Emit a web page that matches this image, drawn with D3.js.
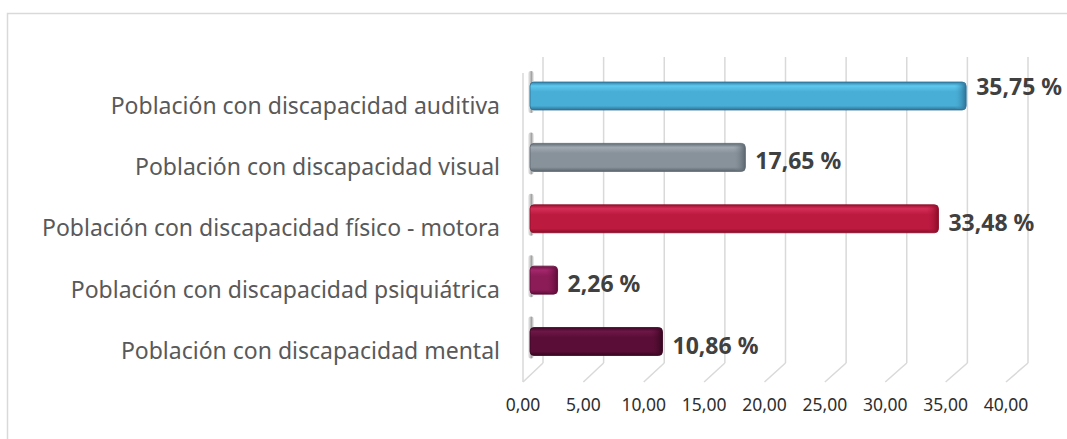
<!DOCTYPE html>
<html>
<head>
<meta charset="utf-8">
<script src="https://cdn.jsdelivr.net/npm/d3@7"></script>
<style>
  body { margin: 0; background: #fff; }
  svg { display: block; }
</style>
</head>
<body>
<svg id="chart" width="1067" height="439"></svg>
<script>
var categories = [
    "Población con discapacidad auditiva",
    "Población con discapacidad visual",
    "Población con discapacidad físico - motora",
    "Población con discapacidad psiquiátrica",
    "Población con discapacidad mental"
];
var values = [35.75, 17.65, 33.48, 2.26, 10.86];
var valueLabels = ["35,75 %", "17,65 %", "33,48 %", "2,26 %", "10,86 %"];
var tickValues = [0, 5, 10, 15, 20, 25, 30, 35, 40];
var tickLabels = ["0,00", "5,00", "10,00", "15,00", "20,00", "25,00", "30,00", "35,00", "40,00"];

// top / light / mid / bottom shades per bar
var barColors = [
    ["#2f7fa6", "#5fc8ee", "#48aed6", "#2e7094"],
    ["#5f6a73", "#a0a9b1", "#88929b", "#5b656e"],
    ["#9e0f2e", "#d42e57", "#bd1a40", "#8a0c28"],
    ["#6e1143", "#a3276c", "#8c1c58", "#5e0c38"],
    ["#3e0725", "#6e1647", "#5a0e37", "#36051f"]
];

var svg = d3.select("#chart"),
    width = +svg.attr("width"),
    height = +svg.attr("height");

var font = "'Noto Sans', 'DejaVu Sans', sans-serif";

// chart border (only top and left visible)
svg.append("path")
    .attr("d", "M7.5,439 L7.5,13.5 L1067,13.5")
    .attr("fill", "none")
    .attr("stroke", "#d9d9d9")
    .attr("stroke-width", 1.5);

var xBar = d3.scaleLinear().domain([0, 40]).range([530, 1018]);
var xBack = d3.scaleLinear().domain([0, 40]).range([543, 1028]);
var xFront = d3.scaleLinear().domain([0, 40]).range([523, 1006]);
var y = d3.scalePoint().domain(categories).range([96, 341.5]);

var backTop = 57, backBottom = 363, frontBottom = 382;
var barH = 28;

var defs = svg.append("defs");
barColors.forEach(function (c, i) {
    var g = defs.append("linearGradient")
        .attr("id", "bar" + i)
        .attr("x1", 0).attr("y1", 0).attr("x2", 0).attr("y2", 1);
    g.append("stop").attr("offset", "0%").attr("stop-color", c[0]);
    g.append("stop").attr("offset", "14%").attr("stop-color", c[1]);
    g.append("stop").attr("offset", "35%").attr("stop-color", c[2]);
    g.append("stop").attr("offset", "85%").attr("stop-color", c[2]);
    g.append("stop").attr("offset", "100%").attr("stop-color", c[3]);

    var e = defs.append("linearGradient")
        .attr("id", "cap" + i)
        .attr("x1", 0).attr("y1", 0).attr("x2", 1).attr("y2", 0);
    e.append("stop").attr("offset", "0%").attr("stop-color", c[2]).attr("stop-opacity", 0);
    e.append("stop").attr("offset", "100%").attr("stop-color", c[3]);
});

var shadow = defs.append("linearGradient")
    .attr("id", "wallShadow")
    .attr("x1", 0).attr("y1", 0).attr("x2", 1).attr("y2", 0);
shadow.append("stop").attr("offset", "0%").attr("stop-color", "#9a9a9a").attr("stop-opacity", 0.1);
shadow.append("stop").attr("offset", "60%").attr("stop-color", "#8a8a8a").attr("stop-opacity", 0.8);
shadow.append("stop").attr("offset", "100%").attr("stop-color", "#bdbdbd").attr("stop-opacity", 0.2);

// back wall gridlines
var grid = svg.append("g").attr("class", "grid");
grid.selectAll("line.back")
    .data(tickValues)
    .enter().append("line")
    .attr("class", "back")
    .attr("x1", function (d) { return xBack(d); })
    .attr("x2", function (d) { return xBack(d); })
    .attr("y1", backTop)
    .attr("y2", backBottom)
    .attr("stroke", "#d9d9d9")
    .attr("stroke-width", 1.5);

// floor lines
grid.selectAll("line.floor")
    .data(tickValues)
    .enter().append("line")
    .attr("class", "floor")
    .attr("x1", function (d) { return xFront(d); })
    .attr("x2", function (d) { return xBack(d); })
    .attr("y1", frontBottom)
    .attr("y2", backBottom)
    .attr("stroke", "#d9d9d9")
    .attr("stroke-width", 1.5);

// side wall front edge
grid.append("line")
    .attr("x1", xFront(0)).attr("x2", xFront(0))
    .attr("y1", 73).attr("y2", frontBottom)
    .attr("stroke", "#d9d9d9")
    .attr("stroke-width", 1.5);

// shadows on the side wall
grid.selectAll("rect.wall")
    .data(categories)
    .enter().append("rect")
    .attr("class", "wall")
    .attr("x", xBar(0) - 2)
    .attr("y", function (d) { return y(d) - barH / 2 - 11; })
    .attr("width", 6)
    .attr("height", barH + 14)
    .attr("rx", 3)
    .attr("fill", "url(#wallShadow)");

// bars
var bars = svg.append("g").attr("class", "bars")
    .selectAll("g")
    .data(categories)
    .enter().append("g");

bars.append("rect")
    .attr("x", xBar(0))
    .attr("y", function (d) { return y(d) - barH / 2; })
    .attr("width", function (d, i) { return xBar(values[i]) - xBar(0); })
    .attr("height", barH)
    .attr("rx", 4)
    .attr("fill", function (d, i) { return "url(#bar" + i + ")"; })
    .attr("stroke", function (d, i) { return barColors[i][3]; })
    .attr("stroke-width", 0.8);

// rounded end cap shading
bars.append("rect")
    .attr("x", function (d, i) { return xBar(values[i]) - 12; })
    .attr("y", function (d) { return y(d) - barH / 2 + 1; })
    .attr("width", 12)
    .attr("height", barH - 2)
    .attr("rx", 4)
    .attr("fill", function (d, i) { return "url(#cap" + i + ")"; });

// value labels
bars.append("text")
    .text(function (d, i) { return valueLabels[i]; })
    .attr("x", function (d, i) { return xBar(values[i]) + 10; })
    .attr("y", function (d, i) { return y(d) + (i === 0 ? -9.5 : 4); })
    .attr("dy", "0.35em")
    .attr("font-family", font)
    .attr("font-weight", "bold")
    .attr("font-size", "23px")
    .attr("fill", "#404040");

// category labels
svg.append("g").attr("class", "cats")
    .selectAll("text")
    .data(categories)
    .enter().append("text")
    .text(function (d) { return d; })
    .attr("x", 500)
    .attr("y", function (d) { return y(d) + 9.5; })
    .attr("dy", "0.35em")
    .attr("text-anchor", "end")
    .attr("font-family", font)
    .attr("font-size", "23px")
    .attr("fill", "#595959");

// value axis labels
svg.append("g").attr("class", "ticks")
    .selectAll("text")
    .data(tickValues)
    .enter().append("text")
    .text(function (d, i) { return tickLabels[i]; })
    .attr("x", function (d) { return xFront(d); })
    .attr("y", 405)
    .attr("dy", "0.35em")
    .attr("text-anchor", "middle")
    .attr("font-family", font)
    .attr("font-size", "17.5px")
    .attr("fill", "#2e2e2e");
</script>
</body>
</html>
